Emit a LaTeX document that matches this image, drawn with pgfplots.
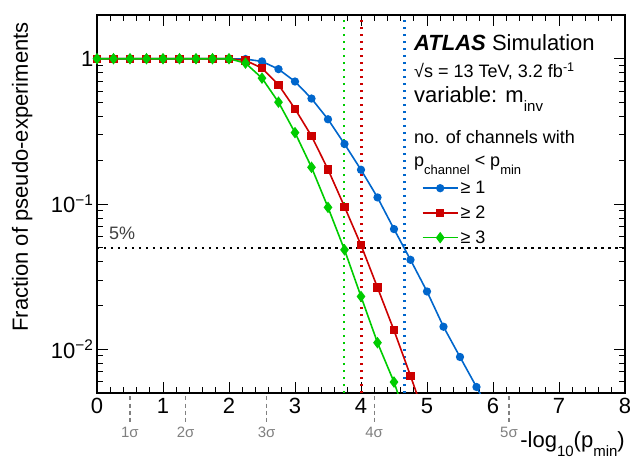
\documentclass[border=0pt]{standalone}
\usepackage{fontspec}
\setmainfont{Liberation Sans}
\usepackage{graphicx}
\usepackage{pgfplots}
\pgfplotsset{compat=1.18}
\definecolor{cblue}{RGB}{0,102,204}
\definecolor{cred}{RGB}{204,0,0}
\definecolor{cgreen}{RGB}{0,204,0}
\newcommand{\subL}[1]{\raisebox{-0.42em}{\fontsize{15}{16}\selectfont #1}}
\newcommand{\subS}[1]{\raisebox{-0.45em}{\fontsize{13}{14}\selectfont #1}}
\begin{document}
\begin{tikzpicture}
\path[use as bounding box] (-97pt,-68pt) rectangle (533pt,393pt);
\begin{axis}[
  at={(0pt,0pt)}, anchor=south west,
  width=528pt, height=378pt, scale only axis,
  xmin=0, xmax=8, ymin=0.005, ymax=2, ymode=log,
  xtick={0,1,2,3,4,5,6,7,8}, xticklabels={0,1,2,3,4,5,6,7,8},
  minor x tick num=4,
  ytick={0.01,0.1,1}, yticklabels={10\textsuperscript{−2},10\textsuperscript{−1},1},
  minor ytick={0.006,0.007,0.008,0.009,0.02,0.03,0.04,0.05,0.06,0.07,0.08,0.09,0.2,0.3,0.4,0.5,0.6,0.7,0.8,0.9},
  tick align=inside, major tick length=11pt, minor tick length=6pt,
  ticklabel style={font=\fontsize{22}{26}\selectfont},
  xticklabel style={yshift=-2pt},
  axis line style={line width=1.2pt},
  every tick/.style={black, line width=0.9pt},
  legend style={at={(0.615,0.566)}, anchor=north west, draw=none, fill=none,
    font=\fontsize{18}{20}\selectfont, row sep=6.7pt, inner sep=0pt},
  legend cell align=left,
  legend image code/.code={\draw[mark repeat=2, mark phase=2] plot coordinates {(0pt,0pt) (17.5pt,0pt) (35pt,0pt)};},
]
\addplot[black, line width=2.2pt, dash pattern=on 2.5pt off 4.5pt, forget plot] coordinates {(0,0.05) (8,0.05)};
\addplot[cgreen, line width=2.4pt, dash pattern=on 2.5pt off 4.5pt, forget plot] coordinates {(3.74,0.005) (3.74,2)};
\addplot[cred, line width=2.4pt, dash pattern=on 2.5pt off 4.5pt, forget plot] coordinates {(4.01,0.005) (4.01,2)};
\addplot[cblue, line width=2.4pt, dash pattern=on 2.5pt off 4.5pt, forget plot] coordinates {(4.66,0.005) (4.66,2)};

\addplot[cblue, line width=1.6pt, mark=*, mark size=3.3pt] coordinates {
(0,1) (0.25,1) (0.5,1) (0.75,1) (1,1) (1.25,1) (1.5,1) (1.75,1) (2,1)
(2.25,0.995) (2.5,0.958) (2.75,0.848) (3,0.697) (3.25,0.532) (3.5,0.383)
(3.75,0.259) (4,0.172) (4.25,0.111) (4.5,0.0672) (4.75,0.0413) (5,0.025)
(5.25,0.0143) (5.5,0.00885) (5.75,0.0055) (6,0.0034)};
\addlegendentry{≥ 1}
\addplot[cred, line width=1.6pt, mark=square*, mark size=3.3pt] coordinates {
(0,1) (0.25,1) (0.5,1) (0.75,1) (1,1) (1.25,1) (1.5,1) (1.75,1) (2,1)
(2.25,0.973) (2.5,0.862) (2.75,0.662) (3,0.452) (3.25,0.294) (3.5,0.173)
(3.75,0.0958) (4,0.0522) (4.25,0.0266) (4.5,0.0135) (4.75,0.00657) (5,0.0031)};
\addlegendentry{≥ 2}
\addplot[cgreen, line width=1.6pt, mark=diamond*, mark size=4.5pt] coordinates {
(0,1) (0.25,1) (0.5,1) (0.75,1) (1,1) (1.25,1) (1.5,1) (1.75,1) (2,1)
(2.25,0.933) (2.5,0.735) (2.75,0.502) (3,0.31) (3.25,0.179) (3.5,0.0948)
(3.75,0.0484) (4,0.0231) (4.25,0.0111) (4.5,0.00595) (4.75,0.00275)};
\addlegendentry{≥ 3}

\coordinate (s1) at (axis cs:0.4985,0.005);
\coordinate (s2) at (axis cs:1.342,0.005);
\coordinate (s3) at (axis cs:2.569,0.005);
\coordinate (s4) at (axis cs:4.199,0.005);
\coordinate (s5) at (axis cs:6.242,0.005);
\end{axis}
\foreach \c/\l in {s1/1,s2/2,s3/3,s4/4,s5/5} {
  \draw[black!50, line width=1.2pt, dash pattern=on 4pt off 3pt] ([yshift=-3.5pt]\c) -- ([yshift=-29pt]\c);
  \node[black!50, anchor=base, inner sep=0pt, font=\fontsize{15}{17}\selectfont] at ([yshift=-44.5pt]\c) {\l σ};
}
\node[rotate=90, anchor=base east, inner sep=0pt, font=\fontsize{22}{26}\selectfont] at (-69pt,371pt) {Fraction of pseudo-experiments};
\node[anchor=base east, inner sep=0pt, font=\fontsize{22}{26}\selectfont] at (528pt,-54pt) {-log\subL{10}(p\subL{min})};
\node[anchor=base west, inner sep=0pt, font=\fontsize{22}{26}\selectfont] at (317pt,342.3pt) {\textbf{\textit{ATLAS}} Simulation};
\node[anchor=base west, inner sep=0pt, font=\fontsize{18}{20}\selectfont] at (317pt,315.7pt) {√s = 13 TeV, 3.2 fb\textsuperscript{-1}};
\node[anchor=base west, inner sep=0pt, font=\fontsize{22}{26}\selectfont] at (317pt,290.3pt) {variable: m\subL{inv}};
\node[anchor=base west, inner sep=0pt, font=\fontsize{18}{20}\selectfont] at (317pt,249pt) {no. of channels with};
\node[anchor=base west, inner sep=0pt, font=\fontsize{18}{20}\selectfont] at (317pt,226.3pt) {p\subS{channel} < p\subS{min}};
\node[anchor=base west, inner sep=0pt, text=black!75, font=\fontsize{18}{20}\selectfont] at (12pt,153pt) {5\%};
\end{tikzpicture}
\end{document}
